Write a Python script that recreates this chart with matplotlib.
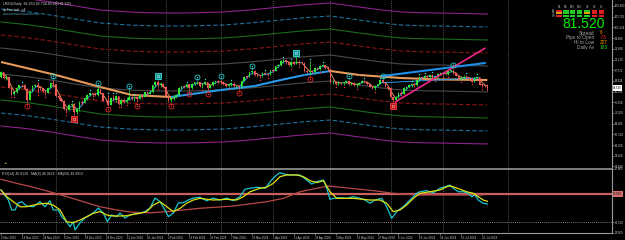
import numpy as np
import matplotlib
matplotlib.use("Agg")
import matplotlib.pyplot as plt
import matplotlib.transforms as mtransforms
from matplotlib.collections import LineCollection
from matplotlib.patches import Rectangle

plt.rcParams['font.family'] = ['Liberation Sans', 'DejaVu Sans']

# UKOil daily bars, 2 Nov 2023 .. 24 Jul 2024
first_open = 85.40
closes = [86.85, 84.89, 85.18, 81.61, 79.54, 80.01, 81.43, 82.52, 82.47, 81.18,
          77.42, 80.61, 82.32, 82.45, 81.96, 81.42, 80.58, 79.98, 81.68, 83.10,
          82.83, 78.88, 78.03, 77.20, 74.30, 74.05, 75.84, 76.03, 73.24, 74.26,
          76.61, 76.55, 77.95, 79.23, 79.70, 79.39, 79.07, 81.07, 79.65, 77.15,
          77.04, 75.89, 78.25, 77.59, 78.76, 76.12, 77.59, 76.80, 77.41, 78.29,
          78.15, 78.29, 77.88, 79.10, 78.56, 80.06, 79.55, 80.04, 82.43, 83.55,
          82.40, 82.87, 81.71, 78.70, 77.33, 78.00, 78.59, 79.21, 81.63, 82.19,
          82.00, 82.77, 81.60, 82.86, 83.47, 83.56, 82.34, 83.03, 83.67, 81.62,
          82.53, 83.65, 83.68, 83.62, 83.55, 82.80, 82.04, 82.96, 82.96, 82.08,
          82.21, 81.92, 84.03, 85.42, 85.34, 86.89, 87.38, 85.95, 85.78, 85.43,
          86.75, 86.25, 86.09, 87.48, 87.42, 89.00, 89.35, 90.65, 91.17, 90.38,
          89.42, 90.48, 89.74, 90.45, 90.10, 90.02, 87.29, 87.11, 87.29, 87.00,
          88.42, 88.02, 89.01, 89.50, 88.40, 87.86, 83.44, 83.67, 82.96, 83.33,
          83.16, 83.58, 83.88, 82.79, 83.36, 82.38, 82.75, 83.27, 83.98, 83.71,
          82.88, 81.90, 81.36, 82.12, 82.86, 84.22, 83.60, 81.86, 81.62, 78.36,
          77.52, 78.41, 79.87, 79.62, 81.63, 81.92, 82.60, 82.75, 82.62, 84.25,
          85.33, 85.07, 85.71, 85.24, 86.01, 85.01, 85.25, 86.39, 86.41, 86.60,
          86.24, 87.34, 87.43, 86.54, 85.75, 84.66, 85.08, 85.40, 85.03, 84.85,
          83.73, 85.08, 85.11, 82.63, 82.60, 82.25, 81.52]
highs = [87.20, 87.10, 85.90, 85.30, 81.80, 80.60, 81.80, 82.70, 83.00, 82.80,
         81.40, 80.90, 82.50, 82.90, 83.50, 82.20, 81.60, 80.80, 82.00, 83.50,
         84.10, 83.00, 79.50, 78.10, 77.50, 74.80, 76.20, 76.50, 76.40, 74.50,
         77.10, 77.30, 78.40, 79.60, 80.30, 79.90, 80.30, 81.70, 81.20, 79.60,
         77.60, 79.20, 78.50, 79.10, 79.10, 78.80, 77.80, 78.20, 78.50, 80.70,
         78.80, 78.90, 78.50, 79.40, 79.50, 80.30, 80.50, 80.80, 82.60, 84.00,
         84.20, 83.40, 83.20, 81.50, 78.90, 78.40, 78.90, 79.50, 81.80, 82.30,
         82.60, 82.90, 82.40, 83.10, 83.60, 83.90, 83.60, 83.30, 83.90, 83.70,
         82.60, 83.80, 84.00, 84.20, 84.30, 83.90, 83.10, 83.20, 83.60, 83.40,
         82.60, 82.60, 84.30, 85.60, 85.70, 87.00, 87.70, 87.60, 86.40, 86.10,
         86.90, 87.00, 86.50, 87.60, 87.90, 89.10, 89.60, 91.00, 91.30, 91.10,
         90.60, 90.80, 90.70, 92.20, 91.00, 90.80, 90.30, 87.80, 90.70, 87.60,
         88.60, 88.70, 89.20, 89.70, 89.40, 88.90, 86.60, 84.40, 84.00, 83.90,
         83.50, 83.70, 84.20, 84.40, 83.60, 83.50, 83.20, 83.70, 84.10, 84.40,
         83.90, 83.20, 82.30, 82.40, 83.00, 84.40, 84.40, 83.60, 82.10, 81.80,
         78.50, 78.70, 80.10, 80.40, 81.70, 82.10, 82.90, 83.10, 83.10, 84.40,
         85.50, 85.40, 86.00, 85.90, 86.10, 86.20, 85.60, 86.50, 86.90, 87.00,
         87.10, 87.60, 87.80, 87.90, 86.80, 85.90, 85.50, 85.80, 85.90, 85.30,
         84.80, 85.30, 85.70, 85.20, 82.90, 82.70, 82.73]
lows = [84.80, 84.60, 84.30, 81.40, 79.30, 79.30, 79.80, 81.10, 81.70, 80.80,
        76.60, 77.30, 80.40, 81.70, 79.90, 80.90, 80.00, 79.10, 79.90, 81.50,
        82.00, 78.60, 77.60, 76.60, 74.00, 73.00, 74.00, 75.10, 72.30, 72.70,
        73.70, 75.80, 76.40, 77.50, 78.80, 78.60, 78.80, 78.90, 79.40, 77.00,
        76.60, 75.60, 75.70, 77.30, 76.90, 75.90, 75.90, 76.50, 76.40, 77.60,
        77.60, 77.20, 76.90, 77.90, 78.20, 78.30, 78.80, 79.40, 79.90, 82.00,
        81.80, 81.80, 81.60, 78.40, 76.90, 76.60, 77.30, 78.20, 79.20, 81.10,
        81.60, 81.60, 80.80, 81.20, 82.40, 82.90, 81.90, 81.50, 82.60, 81.00,
        81.40, 82.10, 82.80, 83.00, 83.00, 82.50, 81.90, 81.80, 82.20, 81.90,
        81.60, 81.10, 81.90, 83.80, 84.90, 85.10, 86.40, 85.60, 85.10, 84.90,
        85.20, 86.00, 85.50, 86.00, 86.90, 87.30, 88.50, 89.10, 90.00, 89.60,
        89.10, 88.80, 89.40, 89.70, 89.40, 89.60, 87.10, 86.60, 86.10, 86.50,
        86.70, 87.80, 87.70, 88.90, 88.00, 87.30, 83.20, 83.00, 82.50, 82.70,
        82.60, 82.40, 83.10, 82.60, 82.40, 82.10, 81.90, 82.50, 83.10, 83.30,
        82.60, 81.70, 81.10, 80.90, 82.10, 82.80, 83.20, 81.70, 80.90, 78.00,
        76.80, 77.30, 78.20, 78.90, 79.50, 81.00, 81.40, 81.80, 82.00, 82.30,
        84.00, 84.70, 85.00, 84.90, 84.90, 84.80, 84.60, 84.90, 85.90, 85.90,
        86.00, 85.90, 86.90, 86.30, 85.50, 84.40, 84.20, 84.70, 84.70, 84.30,
        83.40, 83.50, 84.80, 82.40, 81.80, 81.80, 80.46]

# slow slope-coloured MA (thick line)
slow_bars = [0, 21, 38, 50, 65, 84, 97, 107, 116, 126, 137, 153, 168, 186]
slow_ma = [90.36, 85.94, 81.86, 79.14, 78.46, 80.84, 82.20, 84.24, 85.94,
           87.30, 85.94, 84.92, 84.41, 84.24]

# envelope centre and step
band_bars = [0, 10, 19, 29, 38, 50, 61, 73, 85, 96, 107, 117, 126, 137, 145, 153, 161, 168, 177, 186]
band_center = [90.70, 89.80, 88.66, 87.20, 85.94, 85.20, 84.92, 84.95, 85.26, 86.00,
               86.96, 87.80, 88.32, 86.96, 86.00, 85.26, 85.00, 84.92, 84.75, 84.58]
band_step = 4.42

# fractal markers (bar numbers)
frac_up = [20, 37, 49, 75, 84, 96, 133, 146, 173]
frac_dn = [10, 41, 52, 65, 72, 79, 91, 118]
box_up = [60, 113]
box_dn = [28, 150]

# trendlines
pink_bars, pink_prices = [151, 185], [76.9, 95.0]
blue_bars, blue_prices = [146, 185], [85.6, 90.0]
thin_bars, thin_prices = [146, 183], [83.3, 85.0]

# RSI window
rsi_bars = [0, 0.9, 2.8, 4.1, 5.4, 6.6, 7.9, 9.8, 12.4, 14.9, 16.8, 18.7, 20.0, 21.9, 23.2,
            25.1, 26.4, 27.6, 28.3, 30.2, 32.1, 34.0, 35.9, 37.2, 39.1, 40.7, 42.3, 44.2,
            45.5, 47.4, 49.3, 51.2, 53.2, 55.1, 57.0, 58.9, 60.8, 62.7, 64.0, 65.9, 67.8,
            69.7, 71.6, 73.5, 76.1, 78.7, 81.1, 83.7, 86.4, 88.7, 91.4, 93.3, 95.2, 97.8,
            101.0, 103.5, 105.4, 106.7, 108.6, 110.5, 114.3, 116.9, 118.8, 120.7, 123.3,
            124.6, 125.8, 127.1, 129.6, 132.2, 134.7, 137.3, 139.2, 141.1, 143.0, 145.6,
            147.5, 149.4, 151.3, 153.8, 156.4, 159.0, 160.2, 162.8, 165.3, 167.9, 169.8,
            171.7, 173.0, 174.9, 176.8, 178.7, 180.0, 181.3, 182.5, 184.4, 186.0]
rsi_vals = [52.9, 50.7, 45.7, 38.6, 38.6, 43.6, 44.5, 41.4, 40.9, 44.5, 40.9, 45.2, 38.6,
            38.6, 33.8, 30.2, 26.6, 30.2, 24.3, 29.3, 32.9, 35.0, 37.4, 40.0, 36.4, 30.2,
            35.0, 33.8, 36.4, 32.9, 35.0, 35.7, 36.4, 37.4, 40.0, 47.1, 44.5, 38.6, 33.8,
            36.4, 43.6, 43.8, 45.7, 47.1, 47.6, 45.2, 47.1, 45.7, 47.1, 45.2, 48.1, 53.4,
            54.1, 54.8, 54.1, 60.0, 63.6, 65.2, 64.1, 63.6, 63.6, 60.0, 57.1, 58.8, 60.0,
            54.1, 46.2, 46.9, 47.4, 46.9, 48.1, 46.9, 45.7, 43.4, 45.7, 46.9, 40.9, 32.6,
            37.4, 40.9, 45.7, 50.5, 51.6, 52.4, 50.9, 54.1, 55.2, 56.4, 54.1, 51.6, 51.6,
            50.5, 48.1, 49.3, 45.7, 43.4, 42.8]
sig_bars = [0, 2.2, 4.7, 7.3, 9.8, 12.4, 14.9, 17.5, 20.0, 22.6, 25.1, 27.6, 30.2, 32.8,
            35.3, 37.9, 40.4, 42.9, 45.5, 48.1, 50.6, 53.2, 55.7, 58.2, 60.8, 63.4, 65.9,
            68.5, 71.0, 73.5, 76.1, 81.2, 86.3, 90.1, 92.7, 95.2, 99.0, 101.6, 104.1, 106.7,
            109.3, 113.1, 115.6, 118.2, 120.7, 123.3, 125.8, 128.4, 130.9, 134.7, 138.5,
            141.1, 144.9, 147.5, 150.0, 152.6, 155.1, 157.7, 160.2, 164.1, 167.9, 171.1,
            173.0, 175.5, 178.1, 180.6, 182.5, 184.4, 186.0]
sig_vals = [52.9, 48.1, 44.5, 40.9, 40.9, 42.1, 42.9, 43.4, 42.1, 38.6, 30.2, 29.5, 31.4,
            33.8, 36.2, 37.4, 35.0, 34.3, 34.3, 34.5, 35.5, 36.2, 37.4, 42.1, 44.5, 40.9,
            37.4, 39.8, 43.4, 45.7, 46.9, 45.7, 46.2, 45.7, 48.1, 51.6, 54.1, 54.8, 57.6,
            62.4, 63.6, 63.6, 62.4, 59.5, 58.1, 59.5, 51.6, 46.9, 46.9, 46.9, 46.2, 45.7,
            45.7, 43.4, 37.4, 38.6, 42.1, 46.9, 50.5, 51.6, 52.9, 55.7, 55.2, 53.4, 51.6,
            50.5, 48.1, 45.7, 44.8]
ma50_bars = [0, 6.0, 12.4, 18.7, 25.1, 31.5, 37.9, 44.2, 50.6, 57.0, 63.4, 69.7, 76.1,
             88.8, 101.6, 108.0, 114.3, 120.7, 125.2, 133.5, 142.4, 150.0, 159.0, 171.0, 184.3]
ma50_vals = [60.5, 57.6, 54.8, 51.6, 48.1, 44.5, 40.9, 38.6, 36.9, 36.6, 37.4, 38.6, 39.8,
             41.4, 44.5, 46.9, 51.6, 54.1, 55.7, 54.1, 52.4, 50.5, 49.3, 49.3, 49.3]

price_ticks = [109.400, 105.762, 102.124, 98.486, 94.848, 91.210, 87.572, 83.934,
               80.296, 76.658, 73.020, 69.382, 65.744, 62.106, 58.468, 54.830]
date_bars = [0, 8, 16, 24, 32, 40, 48, 56, 64, 72, 80, 88, 96, 104, 112, 120,
             128, 136, 144, 152, 160, 168, 176, 184]
date_labels = ["2 Nov 2023", "14 Nov 2023", "24 Nov 2023", "6 Dec 2023", "18 Dec 2023",
               "28 Dec 2023", "11 Jan 2024", "23 Jan 2024", "2 Feb 2024", "14 Feb 2024",
               "26 Feb 2024", "7 Mar 2024", "19 Mar 2024", "1 Apr 2024", "11 Apr 2024",
               "23 Apr 2024", "3 May 2024", "15 May 2024", "27 May 2024", "6 Jun 2024",
               "18 Jun 2024", "28 Jun 2024", "10 Jul 2024", "22 Jul 2024"]
grid_bars = [21, 41, 63, 84, 104, 126, 149, 169, 194]

last_price = 81.52
tf_names = ["M1", "M5", "M15", "M30", "H1", "H4", "D1"]
tf_state = ["RGGGGRR", "YGGGYRR", "RGGGGRR"]
info_labels = ["Spread", "Pips to Open", "Hi to Low", "Daily Av"]
info_values = ["6", "-73", "227", "183"]
info_colors = ["#FF8C00", "#FF2A2A", "#FF9A00", "#22D022"]

# ---------------------------------------------------------------
W, H = 625, 240
fig = plt.figure(figsize=(W / 100, H / 100), dpi=100, facecolor="black")


def fx(px):
    return px / W


def fy(py):
    return 1 - py / H


ax = fig.add_axes([0, fy(168), fx(612), 168 / H], facecolor="black")
rax = fig.add_axes([0, fy(232.7), fx(612), (232.7 - 169) / H], facecolor="black")

n = len(closes)
idx = np.arange(n)
c = np.array(closes)
o = np.array([first_open] + closes[:-1])
hi = np.maximum(np.array(highs), np.maximum(o, c))
lo = np.minimum(np.array(lows), np.minimum(o, c))

# envelopes
bc = np.array(band_center)
band_styles = [("#4a4a4a", "-"), ("#8a1616", (0, (4, 2))), ("#1c6a1c", "-"),
               ("#1f6f98", (0, (4, 2))), ("#8c228c", "-")]
for k, (col, ls) in enumerate(band_styles, start=1):
    for sign in (1, -1):
        ax.plot(band_bars, bc + sign * k * band_step, color=col, ls=ls, lw=0.8, zorder=1)

# grid
for g in grid_bars:
    for a in (ax, rax):
        a.axvline(g, color="#6a6a6a", lw=0.6, ls=(0, (1, 1.5)), zorder=0.5)

# slow MA, orange falling / blue rising
pts = np.column_stack([slow_bars, slow_ma])
segs = [pts[i:i + 2] for i in range(len(pts) - 1)]
cols = ["#2A9BEA" if slow_ma[i + 1] >= slow_ma[i] else "#E79A5A" for i in range(len(pts) - 1)]
ax.add_collection(LineCollection(segs, colors=cols, linewidths=1.5, zorder=2))

# fast MA following price
fast = np.array([np.mean(closes[max(0, i - 2):i + 1]) for i in range(n)])
fpts = np.column_stack([idx, fast])
fsegs = [fpts[i:i + 2] for i in range(n - 1)]
fcols = ["#22A8F0" if fast[i + 1] >= fast[i] else "#E8905A" for i in range(n - 1)]
ax.add_collection(LineCollection(fsegs, colors=fcols, linewidths=0.7, zorder=3))

# candles
up = c >= o
ccol = np.where(up, "#33E633", "#F25858")
ax.vlines(idx, lo, hi, colors=ccol, lw=0.55, zorder=4)
ax.bar(idx, np.maximum(np.abs(c - o), 0.15), bottom=np.minimum(o, c), width=0.62,
       color=ccol, linewidth=0, zorder=4)

# trendlines
ax.plot(thin_bars, thin_prices, color="#2A9BEA", lw=0.7, zorder=3)
ax.plot(blue_bars, blue_prices, color="#1E8FEA", lw=1.5, zorder=5)
ax.plot(pink_bars, pink_prices, color="#F0288C", lw=1.2, zorder=5)

# small fractal dots
above = mtransforms.offset_copy(ax.transData, fig=fig, x=0, y=2.0, units="dots")
below = mtransforms.offset_copy(ax.transData, fig=fig, x=0, y=-2.0, units="dots")
hmax = [i for i in range(1, n - 1) if hi[i] >= hi[i - 1] and hi[i] >= hi[i + 1]]
lmin = [i for i in range(1, n - 1) if lo[i] <= lo[i - 1] and lo[i] <= lo[i + 1]]
ax.plot(hmax, hi[hmax], ls="none", marker="o", ms=1.0, mfc="#40E0E0", mec="none",
        transform=above, zorder=6)
ax.plot(lmin, lo[lmin], ls="none", marker="o", ms=1.0, mfc="#FF3030", mec="none",
        transform=below, zorder=6)

# big fractal circles and boxes
above4 = mtransforms.offset_copy(ax.transData, fig=fig, x=0, y=4.0, units="dots")
below4 = mtransforms.offset_copy(ax.transData, fig=fig, x=0, y=-4.0, units="dots")
ax.plot(frac_up, hi[frac_up], ls="none", marker="o", ms=3.6, mfc="none", mec="#28C8C8",
        mew=0.6, transform=above4, zorder=7)
ax.plot(frac_up, hi[frac_up], ls="none", marker="o", ms=1.0, mfc="#28C8C8", mec="none",
        transform=above4, zorder=7)
ax.plot(frac_dn, lo[frac_dn], ls="none", marker="o", ms=3.6, mfc="none", mec="#E02828",
        mew=0.6, transform=below4, zorder=7)
ax.plot(frac_dn, lo[frac_dn], ls="none", marker="o", ms=1.0, mfc="#E02828", mec="none",
        transform=below4, zorder=7)
ax.plot(box_up, hi[box_up], ls="none", marker="s", ms=5.0, mfc="#128C8C", mec="#40E0E0",
        mew=0.6, transform=above4, zorder=7)
ax.plot(box_up, hi[box_up], ls="none", marker="s", ms=1.8, mfc="none", mec="#B0FFFF",
        mew=0.4, transform=above4, zorder=8)
ax.plot(box_dn, lo[box_dn], ls="none", marker="s", ms=5.0, mfc="#B81818", mec="#FF4040",
        mew=0.6, transform=below4, zorder=7)
ax.plot(box_dn, lo[box_dn], ls="none", marker="s", ms=1.8, mfc="none", mec="#FFB0B0",
        mew=0.4, transform=below4, zorder=8)

# main axis cosmetics
ax.set_xlim(-0.38, 233.65)
ax.set_ylim(54.32, 111.44)
for s in ("top", "left", "bottom"):
    ax.spines[s].set_visible(False)
ax.spines["right"].set_color("#9a9a9a")
ax.spines["right"].set_linewidth(0.8)
ax.yaxis.tick_right()
ax.set_yticks(price_ticks)
ax.set_yticklabels(["%.3f" % v for v in price_ticks])
ax.tick_params(axis="y", length=1.5, width=0.5, color="#9a9a9a", labelsize=2.0,
               labelcolor="#d0d0d0", pad=0.5)
ax.set_xticks([])
ax.text(1.002, last_price, "81.520", transform=ax.get_yaxis_transform(), ha="left",
        va="center", fontsize=2.0, color="black", clip_on=False,
        bbox=dict(boxstyle="square,pad=0.2", fc="white", ec="none"))

# RSI panel
rax.axhline(50, color="#C86060", lw=1.6, zorder=1)
rax.axhline(30, color="#a8a8a8", lw=0.6, ls=(0, (1, 1.5)), zorder=1)
rax.plot(ma50_bars, ma50_vals, color="#B84848", lw=0.9, zorder=2)
rax.plot(rsi_bars, rsi_vals, color="#18C8D0", lw=0.9, zorder=3)
rax.plot(sig_bars, sig_vals, color="#E0E010", lw=0.9, zorder=4)
rax.set_xlim(-0.38, 233.65)
rax.set_ylim(22.36, 67.86)
rax.spines["left"].set_visible(False)
rax.spines["top"].set_color("#8a8a8a")
rax.spines["top"].set_linewidth(1.3)
for s in ("right", "bottom"):
    rax.spines[s].set_color("#9a9a9a")
    rax.spines[s].set_linewidth(0.8)
rax.yaxis.tick_right()
rax.set_yticks([67.86, 30, 22.36])
rax.set_yticklabels(["67.860", "30.000", "22.360"])
rax.tick_params(axis="y", length=1.5, width=0.5, color="#9a9a9a", labelsize=2.0,
                labelcolor="#d0d0d0", pad=0.5)
rax.text(1.002, 50, "50.000", transform=rax.get_yaxis_transform(), ha="left",
         va="center", fontsize=2.0, color="black", clip_on=False,
         bbox=dict(boxstyle="square,pad=0.2", fc="#D87070", ec="none"))
rax.set_xticks(date_bars)
rax.set_xticklabels(date_labels, ha="left")
rax.tick_params(axis="x", length=1.5, width=0.5, color="#9a9a9a", labelsize=2.1,
                labelcolor="#d0d0d0", pad=0.8)
rax.text(0.004, 0.95, "RSI(14) 46.8128   MA(8) 48.3624   MA(50) 49.3913",
         transform=rax.transAxes, ha="left", va="top", fontsize=2.5, color="#c8c8c8")
rax.text(0.003, 50, "Signal", transform=rax.get_yaxis_transform(), ha="left", va="center",
         fontsize=2.2, color="#c8c8c8")

# chart header text
fig.text(fx(3), fy(4), "UKOil,Daily  82.253 82.734 80.460 81.520", fontsize=2.6,
         color="#d8d8d8", ha="left", va="center")
fig.text(fx(3), fy(9.5), "sjeFractals_v4", fontsize=2.6, color="#d8d8d8", ha="left", va="center")
fig.text(fx(3), fy(14), "ooooooooooooooooooooooo", fontsize=2.2, color="#4a9ab0",
         ha="left", va="center")
fig.text(fx(3), fy(163.5), "\u25b2", fontsize=2.4, color="#d8c020", ha="left", va="center")

# timeframe table
col_x = [559, 566, 572.5, 579.5, 587, 594.5, 601.5]
row_y = [10.7, 13.2, 15.7]
state_col = {"G": "#22CC22", "R": "#E02020", "Y": "#E0A000"}
for j, name in enumerate(tf_names):
    fig.text(fx(col_x[j]), fy(7), name, fontsize=1.8, color="#c0c0c0", ha="center", va="center")
for r, states in enumerate(tf_state):
    for j, st in enumerate(states):
        fig.add_artist(Rectangle((fx(col_x[j] - 2.8), fy(row_y[r] + 0.9)), 5.6 / W, 1.8 / H,
                                 transform=fig.transFigure, fc=state_col[st], ec="none"))
for r, lab in enumerate(["ST", "TR", "OS"]):
    fig.text(fx(555), fy(row_y[r]), lab, fontsize=1.8, color="#d0d0d0", ha="right", va="center")

# price box
fig.text(fx(605), fy(24), "81.520", fontsize=10, color="#00F000", ha="right", va="center")
for r, (lab, val, vc) in enumerate(zip(info_labels, info_values, info_colors)):
    yy = fy(33 + r * 4.9)
    fig.text(fx(594), yy, lab, fontsize=3.4, color="#a8a8a8", ha="right", va="center")
    fig.text(fx(600), yy, val, fontsize=3.4, color=vc, ha="left", va="center")

fig.savefig("out.png", dpi=100, facecolor="black")
